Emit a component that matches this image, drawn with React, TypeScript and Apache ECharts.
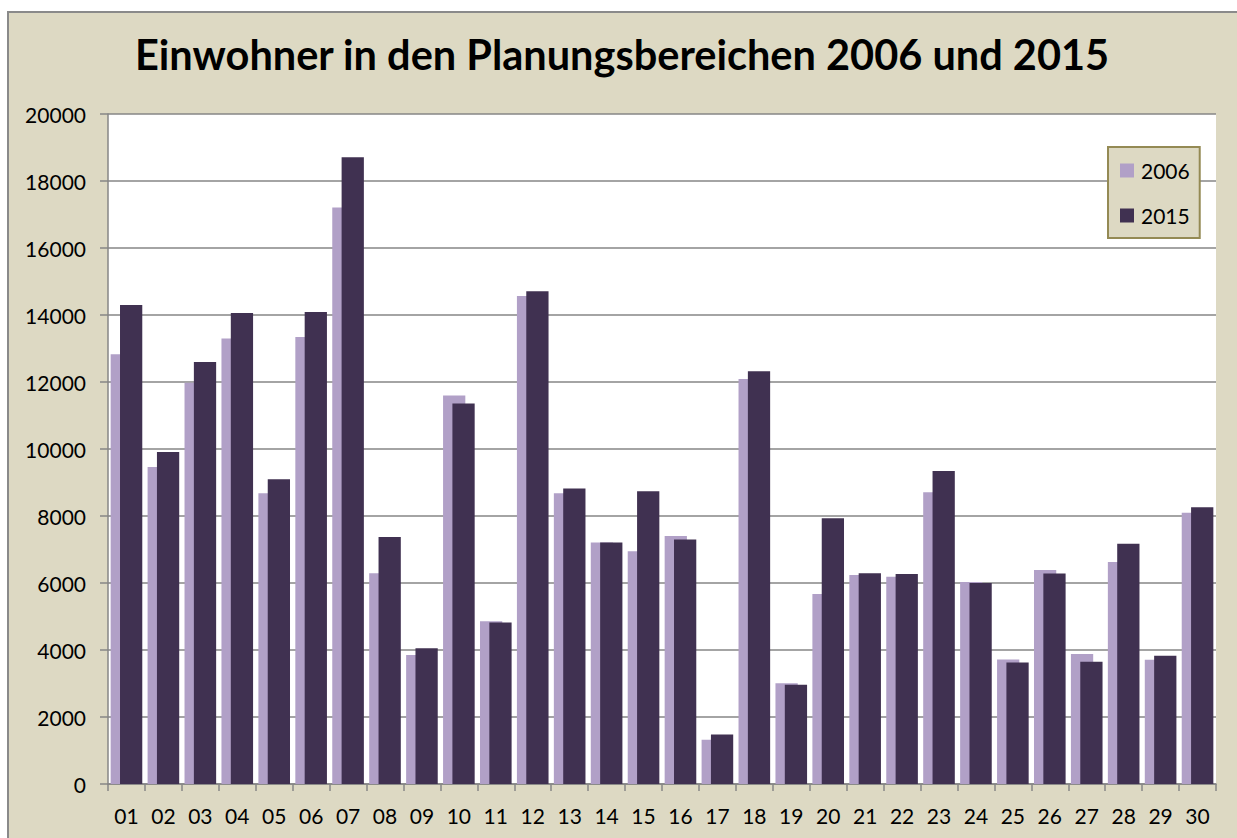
import React, { useEffect, useRef } from "react";
import * as echarts from "echarts";

const categories = ["01","02","03","04","05","06","07","08","09","10","11","12","13","14","15","16","17","18","19","20","21","22","23","24","25","26","27","28","29","30"];
const values2006 = [12830, 9460, 11980, 13300, 8680, 13340, 17210, 6290, 3850, 11600, 4860, 14570, 8680, 7210, 6950, 7400, 1320, 12090, 3010, 5670, 6240, 6190, 8710, 6030, 3720, 6390, 3880, 6630, 3710, 8100];
const values2015 = [14300, 9910, 12600, 14060, 9100, 14090, 18710, 7370, 4050, 11360, 4820, 14710, 8820, 7210, 8740, 7300, 1480, 12320, 2960, 7930, 6290, 6270, 9340, 6000, 3630, 6280, 3650, 7170, 3830, 8260];
const seriesNames = ["2006", "2015"];
const titleText = "Einwohner in den Planungsbereichen 2006 und 2015";

const W = 1250;
const H = 840;

export default function App() {
  const ref = useRef<HTMLDivElement>(null);
  useEffect(() => {
    if (!ref.current) return;
    const chart = echarts.init(ref.current, undefined, { renderer: "svg" });
    const font = "Lato, 'DejaVu Sans', sans-serif";
    chart.setOption({
      animation: false,
      backgroundColor: "#ddd9c3",
      title: {
        text: titleText,
        left: 121,
        top: 15,
        textStyle: { fontFamily: font, fontWeight: "bold", fontSize: 41.5, color: "#000" },
      },
      legend: {
        data: seriesNames,
        orient: "vertical",
        left: 1099,
        top: 134,
        padding: [13, 10, 12, 12],
        backgroundColor: "#ddd9c3",
        borderColor: "#948a54",
        borderWidth: 2,
        borderRadius: 0,
        itemWidth: 14,
        itemHeight: 14,
        itemGap: 24,
        icon: "rect",
        textStyle: { fontFamily: font, fontSize: 21, color: "#000", lineHeight: 20, padding: [0, 0, 0, 2] },
      },
      grid: {
        left: 99,
        top: 101,
        right: W - 1207,
        bottom: H - 771,
        show: true,
        backgroundColor: "#ffffff",
        borderWidth: 0,
      },
      xAxis: {
        type: "category",
        data: categories,
        axisLine: { show: true, lineStyle: { color: "#868686", width: 1.5 } },
        axisTick: { show: true, length: 7, lineStyle: { color: "#868686", width: 1.5 } },
        axisLabel: { fontFamily: font, fontSize: 21, color: "#000", margin: 21, interval: 0 },
      },
      yAxis: {
        type: "value",
        min: 0,
        max: 20000,
        interval: 2000,
        axisLine: { show: true, lineStyle: { color: "#868686", width: 1.5 } },
        axisTick: { show: true, length: 8, lineStyle: { color: "#868686", width: 1.5 } },
        axisLabel: { fontFamily: font, fontSize: 21, color: "#000", margin: 22, formatter: (v: number) => String(v) },
        splitLine: { show: true, lineStyle: { color: "#868686", width: 1.5 } },
      },
      series: [
        {
          name: seriesNames[0],
          type: "bar",
          data: values2006,
          itemStyle: { color: "#b1a0c7" },
          barGap: "-58%",
          barCategoryGap: "14.4%",
        },
        {
          name: seriesNames[1],
          type: "bar",
          data: values2015,
          itemStyle: { color: "#403151" },
          barGap: "-58%",
          barCategoryGap: "14.4%",
        },
      ],
    });
    return () => chart.dispose();
  }, []);
  return (
    <div
      style={{
        position: "fixed",
        left: 7,
        top: 11,
        borderLeft: "2px solid #8a8a8a",
        borderTop: "2px solid #8a8a8a",
        width: W,
        height: H,
        overflow: "hidden",
      }}
    >
      <div ref={ref} style={{ width: W, height: H }} />
    </div>
  );
}
